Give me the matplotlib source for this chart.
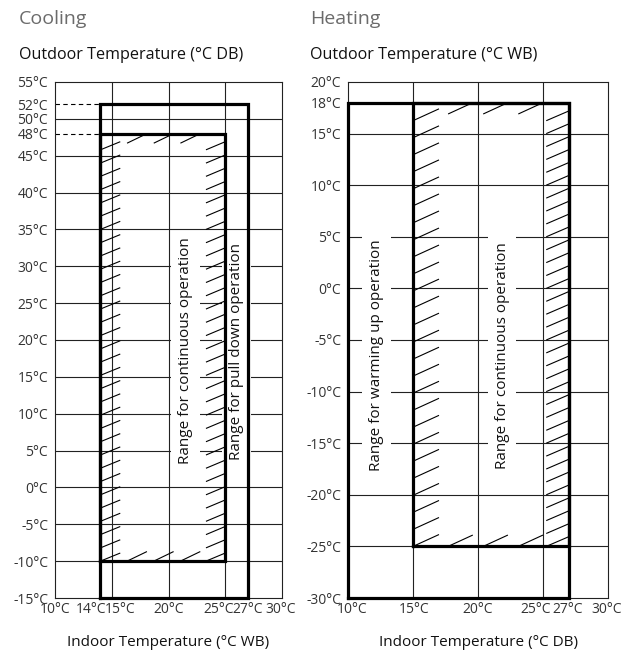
import matplotlib
matplotlib.use("Agg")
import matplotlib.pyplot as plt
from matplotlib.collections import LineCollection

plt.rcParams['font.family'] = ['Open Sans', 'DejaVu Sans']

# cooling chart values
cool_xticks = [10, 14, 15, 20, 25, 27, 30]
cool_xshift = [0, -7, 6, 0, -5, 0, -1]          # label nudges (points)
cool_yticks = [55, 52, 50, 48, 45, 40, 35, 30, 25, 20, 15, 10, 5, 0, -5, -10, -15]
cool_xgrid = [15, 20, 25]
cool_ygrid = [50, 45, 40, 35, 30, 25, 20, 15, 10, 5, 0, -5, -10]
cool_cont_x = [14, 25]
cool_cont_y = [-10, 48]
cool_pull_x = [14, 27]
cool_pull_y = [-15, 52]

# heating chart values
heat_xticks = [10, 15, 20, 25, 27, 30]
heat_xshift = [3, 1, 0, -5, -1, -1]
heat_yticks = [20, 18, 15, 10, 5, 0, -5, -10, -15, -20, -25, -30]
heat_xgrid = [15, 20, 25]
heat_ygrid = [15, 10, 5, 0, -5, -10, -15, -20, -25]
heat_cont_x = [15, 27]
heat_cont_y = [-25, 18]
heat_warm_x = [10, 27]
heat_warm_y = [-30, 18]

fig = plt.figure(figsize=(6.21, 6.60), dpi=100)
W, H = 621, 660
ax1 = fig.add_axes([55 / W, 1 - 598 / H, 227 / W, 516 / H])
ax2 = fig.add_axes([348 / W, 1 - 598 / H, 260 / W, 516 / H])


def rect(ax, xs, ys, lw=2.3):
    ax.plot([xs[0], xs[1], xs[1], xs[0], xs[0]],
            [ys[0], ys[0], ys[1], ys[1], ys[0]],
            color='black', lw=lw, zorder=4, solid_joinstyle='miter', clip_on=False)


def hatch(ax, xs, ys, left, right, rows):
    # left/right/rows = (dx, dy, step)
    x0, x1 = xs
    y0, y1 = ys
    segs = []
    dx, dy, st = left
    y = y0
    while y + dy <= y1 + 1e-6:
        segs.append([(x0, y), (x0 + dx, y + dy)])
        y += st
    dx, dy, st = right
    y = y0
    while y + dy <= y1 + 1e-6:
        segs.append([(x1 - dx, y), (x1, y + dy)])
        y += st
    dx, dy, st = rows
    x = x0 + st
    while x + dx < x1 - left[0] * 0.5:
        segs.append([(x, y0), (x + dx, y0 + dy)])
        segs.append([(x, y1 - dy), (x + dx, y1)])
        x += st
    ax.add_collection(LineCollection(segs, colors='black', linewidths=0.8, zorder=3))


def frame(ax, xlim, ylim, xticks, xshift, yticks, xgrid, ygrid, xlabel):
    ax.set_xlim(*xlim)
    ax.set_ylim(*ylim)
    for g in xgrid:
        ax.axvline(g, color='#222222', lw=0.8, zorder=1)
    for g in ygrid:
        ax.axhline(g, color='#222222', lw=0.8, zorder=1)
    for s in ax.spines.values():
        s.set_linewidth(0.8)
        s.set_color('#222222')
    ax.set_yticks(yticks)
    ax.set_yticklabels([f'{v}°C' for v in yticks], fontsize=10, color='#333333')
    ax.tick_params(axis='y', length=0, pad=5)
    ax.set_xticks([])
    for v, sh in zip(xticks, xshift):
        ax.annotate(f'{v}°C', xy=(v, 0), xycoords=ax.get_xaxis_transform(),
                    xytext=(sh, -3), textcoords='offset points',
                    ha='center', va='top', fontsize=10, color='#333333')
    ax.annotate(xlabel, xy=(0.5, 0), xycoords='axes fraction',
                xytext=(0, -27), textcoords='offset points',
                ha='center', va='top', fontsize=11, color='#111111')


frame(ax1, (10, 30), (-15, 55), cool_xticks, cool_xshift, cool_yticks,
      cool_xgrid, cool_ygrid, 'Indoor Temperature (°C WB)')
frame(ax2, (10, 30), (-30, 20), heat_xticks, heat_xshift, heat_yticks,
      heat_xgrid, heat_ygrid, 'Indoor Temperature (°C DB)')

# cooling regions
rect(ax1, cool_pull_x, cool_pull_y)
rect(ax1, cool_cont_x, cool_cont_y)
hatch(ax1, cool_cont_x, cool_cont_y, (1.75, 1.1, 1.8), (1.7, 1.1, 1.8), (1.75, 1.3, 2.35))
for yv in (cool_pull_y[1], cool_cont_y[1]):
    ax1.plot([10, cool_pull_x[0]], [yv, yv], color='black', lw=0.8, ls=(0, (4, 3)), zorder=2)
box = dict(facecolor='white', edgecolor='none', pad=5)
ax1.text(21.5, 18.5, 'Range for continuous operation', rotation=90, ha='center', va='center',
         fontsize=11, color='#111111', bbox=box, zorder=2)
ax1.text(26.0, 18.5, 'Range for pull down operation', rotation=90, ha='center', va='center',
         fontsize=11, color='#111111', bbox=box, zorder=2)

# heating regions
rect(ax2, heat_warm_x, heat_warm_y)
rect(ax2, heat_cont_x, heat_cont_y)
hatch(ax2, heat_cont_x, heat_cont_y, (2.0, 1.15, 1.65), (1.75, 0.95, 1.25), (1.9, 1.1, 2.7))
ax2.text(12.2, -6.5, 'Range for warming up operation', rotation=90, ha='center', va='center',
         fontsize=11, color='#111111', bbox=box, zorder=2)
ax2.text(21.85, -6.5, 'Range for continuous operation', rotation=90, ha='center', va='center',
         fontsize=11, color='#111111', bbox=box, zorder=2)

# headings
fig.text(19 / W, 1 - 24 / H, 'Cooling', fontsize=14, color='#6b6b6b', va='baseline')
fig.text(310 / W, 1 - 24 / H, 'Heating', fontsize=14, color='#6b6b6b', va='baseline')
fig.text(19 / W, 1 - 59 / H, 'Outdoor Temperature (°C DB)', fontsize=11.6, color='#111111', va='baseline')
fig.text(310 / W, 1 - 59 / H, 'Outdoor Temperature (°C WB)', fontsize=11.6, color='#111111', va='baseline')

fig.savefig('out.png', dpi=100, facecolor='white')
